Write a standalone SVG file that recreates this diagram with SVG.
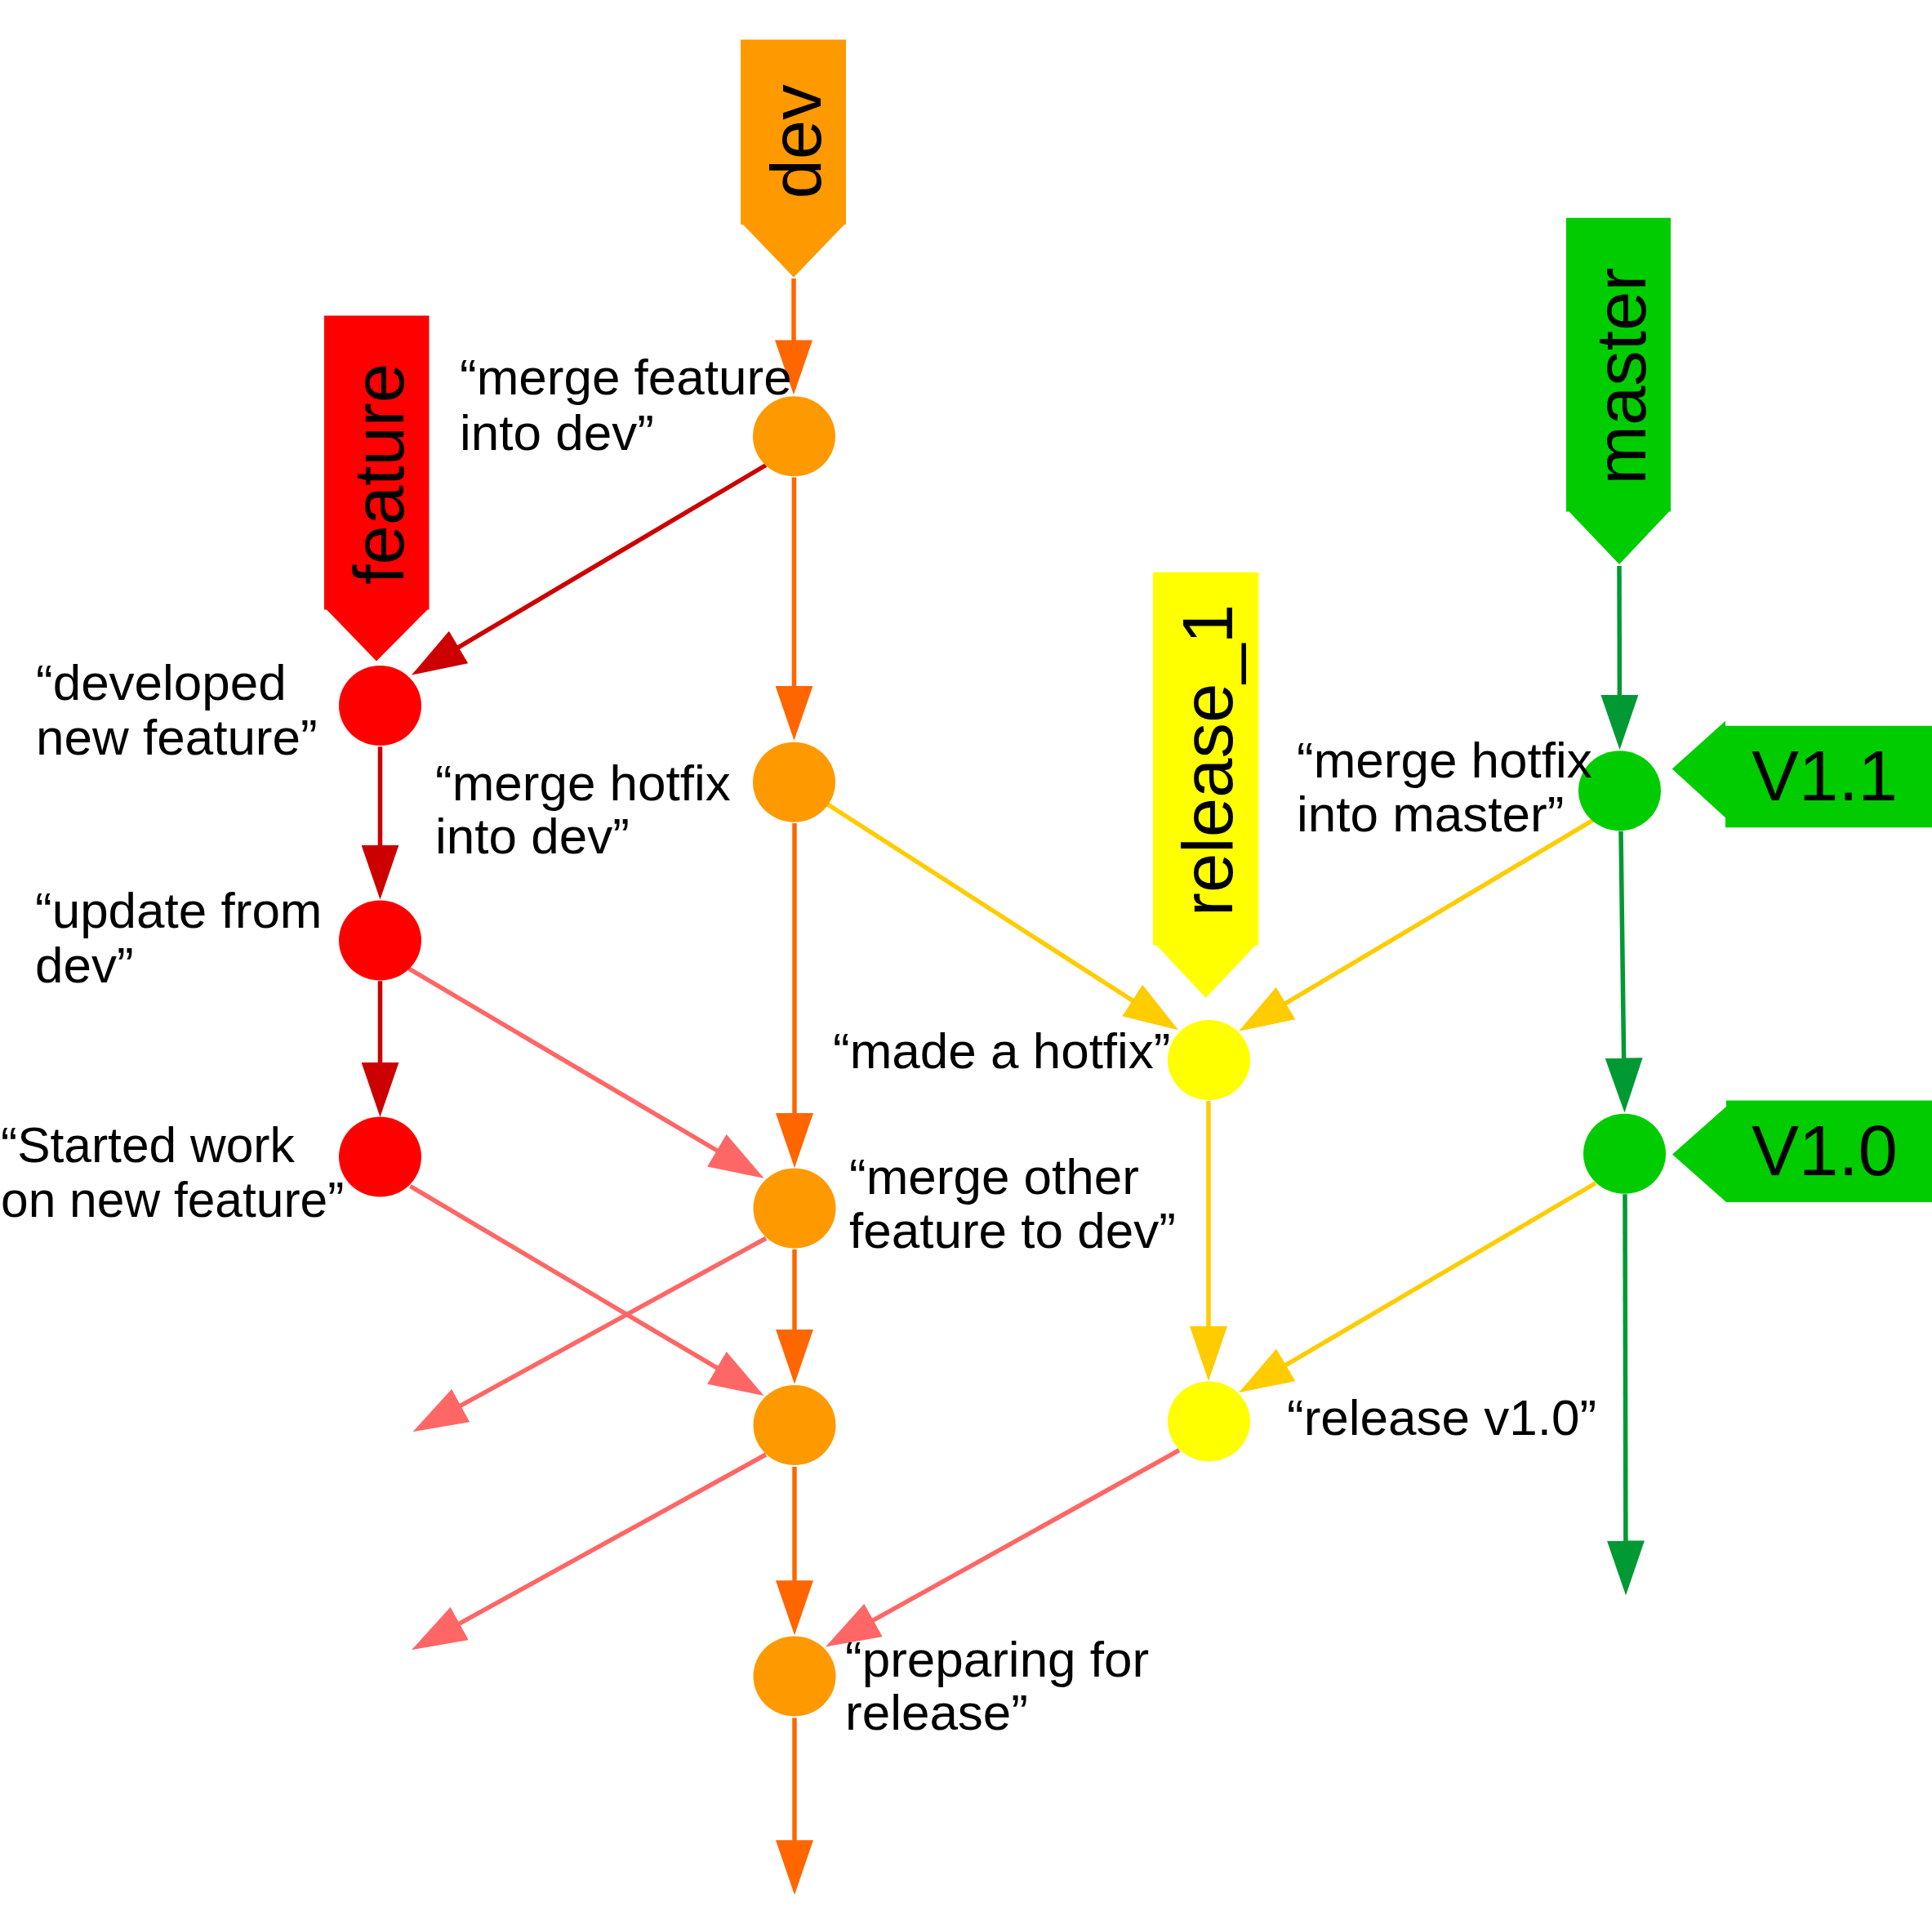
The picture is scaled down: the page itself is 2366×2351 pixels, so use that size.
<svg xmlns="http://www.w3.org/2000/svg" width="2366" height="2351" viewBox="0 0 2366 2351">
<style>
text{font-family:"Liberation Sans",Arial,sans-serif;fill:#000}
.lbl{font-size:62px}
.sm{font-size:60.5px}
.big{font-size:87px}
.c{stroke-width:5.5;fill:none}
.or{stroke:#ff6600}
.dr{stroke:#cc0000}
.pk{stroke:#ff6666}
.ye{stroke:#ffcc00}
.gr{stroke:#009933}
</style>
<defs>
<marker id="mOr" markerUnits="userSpaceOnUse" viewBox="0 0 67 46" markerWidth="67" markerHeight="46" refX="37" refY="23" orient="auto"><path d="M0,0 L67,23 L0,46 Z" fill="#ff6600"/></marker>
<marker id="mDr" markerUnits="userSpaceOnUse" viewBox="0 0 67 46" markerWidth="67" markerHeight="46" refX="37" refY="23" orient="auto"><path d="M0,0 L67,23 L0,46 Z" fill="#cc0000"/></marker>
<marker id="mPk" markerUnits="userSpaceOnUse" viewBox="0 0 67 46" markerWidth="67" markerHeight="46" refX="37" refY="23" orient="auto"><path d="M0,0 L67,23 L0,46 Z" fill="#ff6666"/></marker>
<marker id="mYe" markerUnits="userSpaceOnUse" viewBox="0 0 67 46" markerWidth="67" markerHeight="46" refX="37" refY="23" orient="auto"><path d="M0,0 L67,23 L0,46 Z" fill="#ffcc00"/></marker>
<marker id="mGr" markerUnits="userSpaceOnUse" viewBox="0 0 67 46" markerWidth="67" markerHeight="46" refX="37" refY="23" orient="auto"><path d="M0,0 L67,23 L0,46 Z" fill="#009933"/></marker>
</defs>
<rect width="2366" height="2351" fill="#fff"/>

<g id="connectors">
<path class="c or" d="M972,341 L972,453.4" marker-end="url(#mOr)"/>
<path class="c or" d="M972.5,584.5 L972.5,876.8" marker-end="url(#mOr)"/>
<path class="c dr" d="M938,569.5 L529.8,811.3" marker-end="url(#mDr)"/>
<path class="c dr" d="M465.5,914.3 L465.5,1071.6" marker-end="url(#mDr)"/>
<path class="c ye" d="M1011,983.2 L1417.8,1245" marker-end="url(#mYe)"/>
<path class="c ye" d="M1951,1004.2 L1542.8,1247.4" marker-end="url(#mYe)"/>
<path class="c gr" d="M1983,693 L1983.5,888" marker-end="url(#mGr)"/>
<path class="c gr" d="M1985,1017.7 L1989.1,1332.5" marker-end="url(#mGr)"/>
<path class="c gr" d="M1990,1462.25 L1991,1923.5" marker-end="url(#mGr)"/>
<path class="c ye" d="M1954,1448.75 L1542.9,1690.1" marker-end="url(#mYe)"/>
<path class="c ye" d="M1480,1348.25 L1480,1661" marker-end="url(#mYe)"/>
<path class="c pk" d="M1444,1775.75 L1037.2,2001.9" marker-end="url(#mPk)"/>
<path class="c pk" d="M501,1186.25 L909.7,1427.5" marker-end="url(#mPk)"/>
<path class="c pk" d="M502.5,1452.5 L909.7,1693.7" marker-end="url(#mPk)"/>
<path class="c dr" d="M465.5,1201.25 L465.5,1337.75" marker-end="url(#mDr)"/>
<path class="c pk" d="M938,1516.25 L531.8,1738.8" marker-end="url(#mPk)"/>
<path class="c pk" d="M938,1781 L530.3,2005.8" marker-end="url(#mPk)"/>
<path class="c or" d="M973,1008 L973,1400" marker-end="url(#mOr)"/>
<path class="c or" d="M973,1529.75 L973,1664.75" marker-end="url(#mOr)"/>
<path class="c or" d="M973,1796 L973,1972.25" marker-end="url(#mOr)"/>
<path class="c or" d="M973,2103.5 L973,2290.25" marker-end="url(#mOr)"/>
</g>

<g id="branch-dev">
<path d="M907,48.5 H1036 V275 H1034 L972,339.5 L910,275 H907 Z" fill="#ff9900"/>
<text class="big" transform="translate(1005,243.6) rotate(-90)">dev</text>
</g>
<g id="branch-feature">
<path d="M397,386.5 H525.5 V746.4 H523.6 L461,809.4 L400,746.4 H397 Z" fill="#ff0000"/>
<text class="big" transform="translate(494,715.7) rotate(-90)">feature</text>
</g>
<g id="branch-master">
<path d="M1918,266.8 H2046 V626.5 H2044 L1983,691 L1921.6,626.5 H1918 Z" fill="#00cc00"/>
<text class="big" transform="translate(2015,593.5) rotate(-90)">master</text>
</g>
<g id="branch-release_1">
<path d="M1412,700.7 H1541.3 V1157.3 H1537.7 L1476.7,1221.7 L1416,1157.3 H1412 Z" fill="#ffff00"/>
<text class="big" transform="translate(1509,1122) rotate(-90)">release_1</text>
</g>
<g id="tag-v11">
<path d="M2047.7,941.5 L2113,882.8 V888.8 H2366 V1013.2 H2113 V1001.2 Z" fill="#00cc00"/>
<text class="big" x="2145" y="980">V1.1</text>
</g>
<g id="tag-v10">
<path d="M2048,1413.5 L2114,1355 V1347.5 H2366 V1472 H2114 Z" fill="#00cc00"/>
<text class="big" x="2145" y="1439">V1.0</text>
</g>

<g id="commit-dev1"><ellipse cx="972.5" cy="534.3" rx="50.5" ry="49" fill="#ff9900"/><text class="lbl" x="563" y="483.4">“merge feature</text><text class="lbl" x="563" y="550.8">into dev”</text></g>
<g id="commit-dev2"><ellipse cx="972.5" cy="957.7" rx="50.5" ry="49" fill="#ff9900"/><text class="lbl" x="533" y="979.5">“merge hotfix</text><text class="lbl" x="533" y="1045.4">into dev”</text></g>
<g id="commit-dev3"><ellipse cx="973" cy="1479.5" rx="50.5" ry="49" fill="#ff9900"/><text class="lbl" x="1040" y="1462">“merge other</text><text class="lbl" x="1040" y="1527.5">feature to dev”</text></g>
<g id="commit-dev4"><ellipse cx="973" cy="1745" rx="50.5" ry="49" fill="#ff9900"/></g>
<g id="commit-dev5"><ellipse cx="973" cy="2052.5" rx="50.5" ry="49" fill="#ff9900"/><text class="lbl" x="1035" y="2052.5">“preparing for</text><text class="lbl" x="1035" y="2118">release”</text></g>

<g id="commit-feature1"><ellipse cx="465.5" cy="864.1" rx="50.5" ry="49" fill="#ff0000"/><text class="lbl" x="44" y="856.6">“developed</text><text class="lbl" x="44" y="924">new feature”</text></g>
<g id="commit-feature2"><ellipse cx="465.5" cy="1151.5" rx="50.5" ry="49" fill="#ff0000"/><text class="lbl" x="43" y="1136">“update from</text><text class="lbl" x="43" y="1203">dev”</text></g>
<g id="commit-feature3"><ellipse cx="465.5" cy="1416.5" rx="50.5" ry="49" fill="#ff0000"/><text class="sm" x="1" y="1423">“Started work</text><text class="sm" x="1" y="1490">on new feature”</text></g>

<g id="commit-release1"><ellipse cx="1480.5" cy="1298" rx="50.5" ry="49" fill="#ffff00"/><text class="lbl" x="1020" y="1308">“made a hotfix”</text></g>
<g id="commit-release2"><ellipse cx="1480.5" cy="1740.5" rx="50.5" ry="49" fill="#ffff00"/><text class="lbl" x="1576" y="1757">“release v1.0”</text></g>

<g id="commit-master1"><ellipse cx="1983.5" cy="968.2" rx="50.5" ry="49" fill="#00cc00"/><text class="lbl" x="1588" y="951.7">“merge hotfix</text><text class="lbl" x="1588" y="1017.7">into master”</text></g>
<g id="commit-master2"><ellipse cx="1989.5" cy="1412.75" rx="50.5" ry="49" fill="#00cc00"/></g>
</svg>
